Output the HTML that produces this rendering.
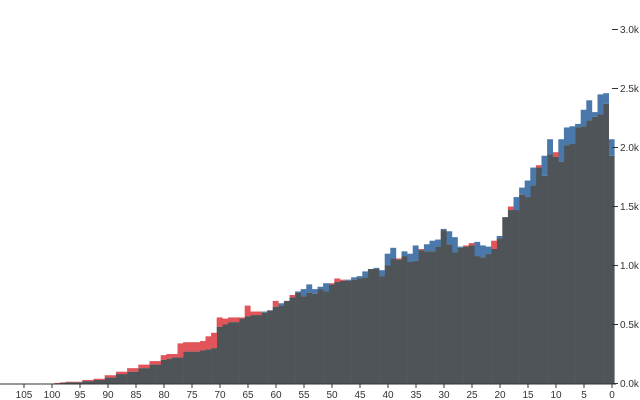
<!DOCTYPE html>
<html><head><meta charset="utf-8"><style>
html,body{margin:0;padding:0;background:#fff;}
svg{display:block;font-family:"Liberation Sans",Arial,sans-serif;}
</style></head><body>
<svg id="chart" width="640" height="400">
<g id="bars"></g>
<g id="xaxis"></g>
<g id="yaxis"></g>
</svg>
<script>
// values in thousands, index = age
const maleValues = [2.07,2.46,2.45,2.30,2.40,2.32,2.20,2.18,2.17,2.07,1.92,2.07,1.93,1.83,1.83,1.72,1.66,1.58,1.47,1.41,1.25,1.14,1.16,1.17,1.20,1.17,1.16,1.16,1.24,1.29,1.31,1.22,1.21,1.18,1.13,1.17,1.10,1.12,1.05,1.15,1.10,0.96,0.98,0.97,0.95,0.91,0.90,0.88,0.87,0.86,0.84,0.85,0.82,0.80,0.84,0.80,0.78,0.73,0.70,0.68,0.65,0.62,0.61,0.58,0.58,0.57,0.55,0.52,0.52,0.50,0.48,0.30,0.29,0.28,0.27,0.27,0.27,0.22,0.22,0.21,0.20,0.16,0.16,0.13,0.13,0.10,0.10,0.08,0.08,0.05,0.05,0.03,0.03,0.02,0.02,0.01,0.01,0.01,0.005,0,0,0,0,0,0,0];
const femaleValues = [1.93,2.37,2.28,2.26,2.23,2.18,2.17,2.03,2.02,1.88,1.96,1.94,1.76,1.85,1.68,1.58,1.60,1.47,1.50,1.41,1.23,1.21,1.10,1.07,1.08,1.19,1.17,1.15,1.11,1.18,1.30,1.16,1.12,1.12,1.14,1.04,1.03,1.08,1.06,1.06,1.00,0.91,0.97,0.97,0.90,0.89,0.88,0.87,0.88,0.89,0.85,0.78,0.80,0.76,0.77,0.74,0.77,0.75,0.70,0.66,0.70,0.62,0.60,0.61,0.61,0.66,0.56,0.56,0.56,0.55,0.56,0.43,0.40,0.36,0.35,0.35,0.35,0.34,0.25,0.25,0.24,0.19,0.19,0.16,0.16,0.13,0.13,0.10,0.10,0.07,0.07,0.04,0.04,0.03,0.03,0.015,0.015,0.015,0.01,0.005,0,0,0,0,0,0];
const xTickValues = [105,100,95,90,85,80,75,70,65,60,55,50,45,40,35,30,25,20,15,10,5,0];
const yTickValues = [0,0.5,1.0,1.5,2.0,2.5,3.0];

const NS="http://www.w3.org/2000/svg";
const x = a => 612 - 5.6*a;
const y = v => 383.5 - v*118;
const bw = 5.6;
function mk(t,attrs,parent){const e=document.createElementNS(NS,t);for(const k in attrs)e.setAttribute(k,attrs[k]);parent.appendChild(e);return e;}
const gb=document.getElementById('bars');
for(let a=0;a<maleValues.length;a++){
  const m=maleValues[a], f=femaleValues[a];
  const hi=Math.max(m,f), lo=Math.min(m,f);
  const left=x(a)-bw/2-0.5;
  if(hi>0){
    const r=mk('rect',{x:left,y:y(hi),width:bw+0.3,height:y(lo)-y(hi),fill:m>=f?'#4b78ab':'#e0545a'},gb);
    
    
  }
  if(lo>0){
    const r2=mk('rect',{x:left,y:y(lo),width:bw+0.3,height:383.5-y(lo),fill:'#4e5457'},gb);
    
    
  }
}
const gx=document.getElementById('xaxis');
const ax=mk('line',{x1:0,x2:616,y1:384,y2:384,stroke:'#333','stroke-width':1},gx);


xTickValues.forEach(v=>{
  const t=mk('line',{x1:x(v),x2:x(v),y1:384,y2:388,stroke:'#333'},gx);
  
  
  const l=mk('text',{x:x(v),y:398,'text-anchor':'middle','font-size':10,fill:'#333'},gx);
  l.textContent=v;
  
  
});
const gy=document.getElementById('yaxis');
yTickValues.forEach(v=>{
  const t=mk('line',{x1:612,x2:618,y1:y(v),y2:y(v),stroke:'#333'},gy);
  
  
  const l=mk('text',{x:620,y:y(v)+3.5,'text-anchor':'start','font-size':10,fill:'#333'},gy);
  l.textContent=v.toFixed(1)+'k';
  
  
});
</script>
</body></html>
